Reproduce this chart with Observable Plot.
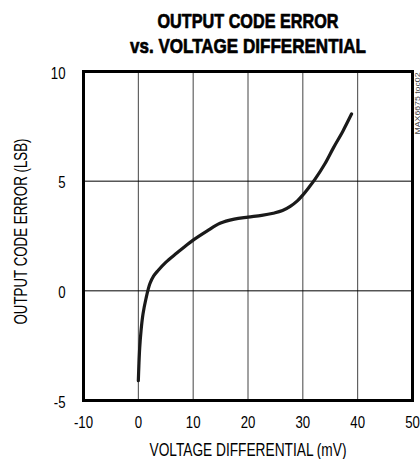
<!DOCTYPE html>
<html>
<head>
<meta charset="utf-8">
<script src="https://cdn.jsdelivr.net/npm/d3@7"></script>
<script src="https://cdn.jsdelivr.net/npm/@observablehq/plot@0.6"></script>
<style>
  html, body { margin: 0; padding: 0; background: #fff; }
  #chart { width: 420px; height: 459px; }
</style>
</head>
<body>
<div id="chart"></div>
<script>
const titleLines = ["OUTPUT CODE ERROR", "vs. VOLTAGE DIFFERENTIAL"];
const xLabel = "VOLTAGE DIFFERENTIAL (mV)";
const yLabel = "OUTPUT CODE ERROR (LSB)";
const watermark = "MAX6675 toc02";
const xTicks = [-10, 0, 10, 20, 30, 40, 50];
const yTicks = [-5, 0, 5, 10];

// curve
const voltage = [0, 0.1, 0.25, 0.5, 0.85, 1.4, 2.1, 2.8, 3.6, 5, 6.9, 8.5, 10, 12.5, 14.9, 17.5, 20, 22.5, 24.6, 26.3, 27.7, 29, 29.9, 31, 32.2, 34, 35.6, 37.3, 38.9];
const error   = [-4.1, -3.4, -2.6, -1.8, -1.06, -0.35, 0.32, 0.68, 0.93, 1.3, 1.7, 2.02, 2.31, 2.72, 3.08, 3.27, 3.36, 3.44, 3.54, 3.66, 3.85, 4.1, 4.34, 4.68, 5.08, 5.78, 6.53, 7.28, 8.07];

const curve = voltage.map((v, i) => ({v, e: error[i]}));

const font = "'Liberation Sans', Arial, sans-serif";

const chart = Plot.plot({
  width: 420,
  height: 459,
  marginLeft: 83,
  marginRight: 8,
  marginTop: 71,
  marginBottom: 59,
  style: {fontFamily: font, fontSize: "16.5px", background: "#fff", color: "#000"},
  x: {domain: [-10, 50], ticks: xTicks},
  y: {domain: [-5, 10], ticks: yTicks},
  marks: [
    Plot.gridX(xTicks, {stroke: "#444", strokeOpacity: 1, strokeWidth: 1}),
    Plot.gridY(yTicks, {stroke: "#000", strokeOpacity: 1, strokeWidth: 1}),
    Plot.axisX(xTicks, {tickSize: 0, tickPadding: 16, label: null, fontSize: 16.5, tickFormat: d => String(d)}),
    Plot.axisY(yTicks, {tickSize: 0, tickPadding: 18, dy: 2, label: null, fontSize: 16.5, tickFormat: d => String(d)}),
    Plot.line(curve, {x: "v", y: "e", stroke: "#1a1a1a", strokeWidth: 3.2, curve: "catmull-rom"}),
    Plot.frame({stroke: "#000", strokeWidth: 3}),
    Plot.text([titleLines[0]], {frameAnchor: "top", dy: -44, lineAnchor: "bottom", fontWeight: "bold", fontSize: 21, fontFamily: font, fill: "#000", stroke: "#000", strokeWidth: 0.7}),
    Plot.text([titleLines[1]], {frameAnchor: "top", dy: -19, lineAnchor: "bottom", fontWeight: "bold", fontSize: 21, fontFamily: font, fill: "#000", stroke: "#000", strokeWidth: 0.7}),
    Plot.text([xLabel], {frameAnchor: "bottom", dy: 55, lineAnchor: "bottom", fontSize: 18}),
    Plot.text([yLabel], {frameAnchor: "left", textAnchor: "middle", dx: -62, dy: -4.5, rotate: -90, fontSize: 18}),
    Plot.text([watermark], {frameAnchor: "top-right", dx: 2.5, dy: 1, rotate: -90, textAnchor: "end", fontSize: 6.5, fill: "#444"})
  ]
});
document.getElementById("chart").appendChild(chart);

// emulate a narrow (Arial Narrow-like) face by condensing glyphs
const fixedWidths = new Map([
  [titleLines[0], 181],
  [titleLines[1], 236],
  [xLabel, 197],
  [yLabel, 186],
  [watermark, 62]
]);
chart.querySelectorAll("text").forEach(t => {
  const s = t.textContent;
  const w = fixedWidths.has(s) ? fixedWidths.get(s) : t.getComputedTextLength() * 0.8;
  if (w > 0) {
    t.setAttribute("textLength", w);
    t.setAttribute("lengthAdjust", "spacingAndGlyphs");
  }
});
</script>
</body>
</html>
